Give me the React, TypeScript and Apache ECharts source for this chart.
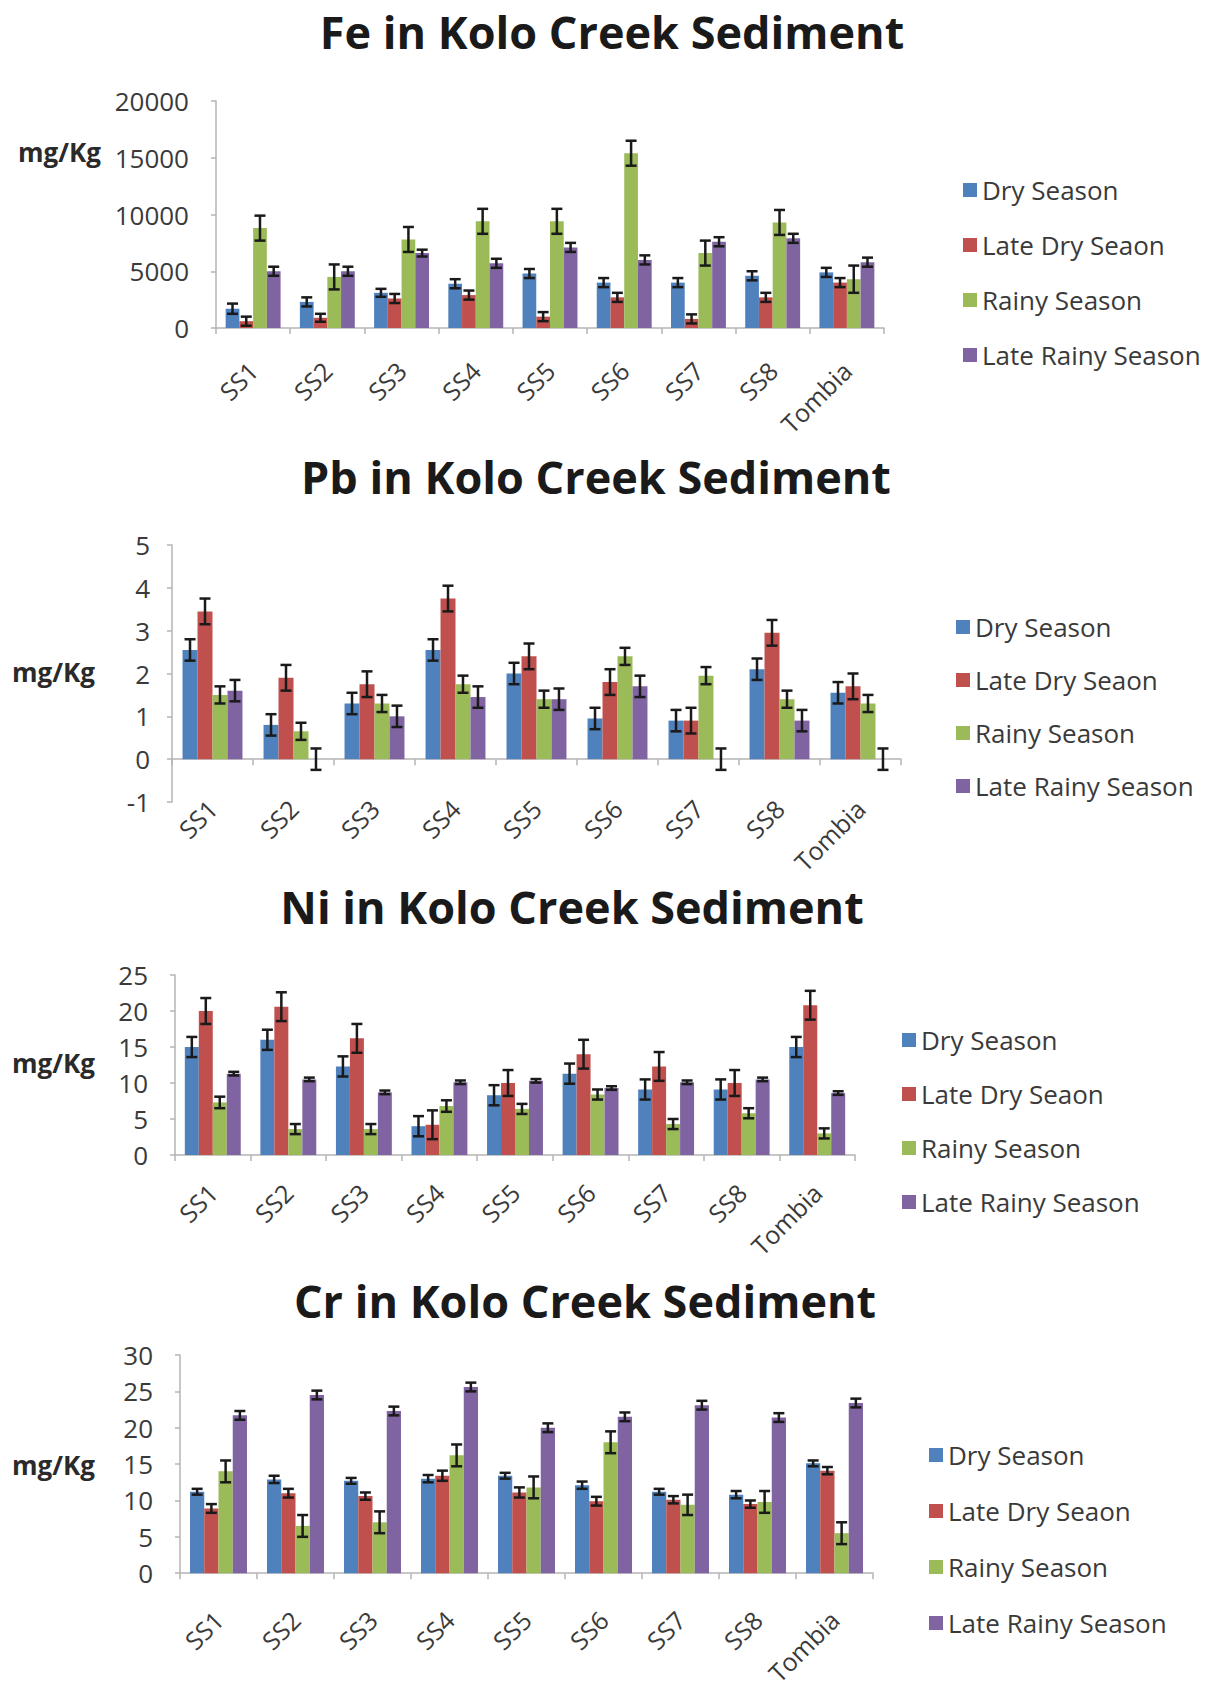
import React, { useEffect, useRef } from "react";
import * as echarts from "echarts";

const categories = ["SS1", "SS2", "SS3", "SS4", "SS5", "SS6", "SS7", "SS8", "Tombia"];
const seasons = ["Dry Season", "Late Dry Seaon", "Rainy Season", "Late Rainy Season"];
const seasonColors = ["#4F81BD", "#C0504D", "#9BBB59", "#8064A2"];

// Fe (mg/Kg)
const feDry = [1700, 2300, 3100, 3900, 4800, 4000, 4000, 4600, 4900];
const feLateDry = [600, 900, 2600, 2900, 1000, 2700, 800, 2700, 4000];
const feRainy = [8800, 4500, 7800, 9400, 9400, 15400, 6600, 9300, 4300];
const feLateRainy = [5000, 5000, 6600, 5700, 7100, 6000, 7600, 7900, 5800];
const feDryErr = [450, 400, 350, 400, 400, 400, 400, 400, 400];
const feLateDryErr = [400, 350, 400, 400, 400, 400, 400, 400, 400];
const feRainyErr = [1100, 1100, 1100, 1100, 1100, 1100, 1100, 1100, 1200];
const feLateRainyErr = [400, 400, 300, 400, 400, 400, 400, 400, 400];

// Pb (mg/Kg)
const pbDry = [2.55, 0.8, 1.3, 2.55, 2.0, 0.95, 0.9, 2.1, 1.55];
const pbLateDry = [3.45, 1.9, 1.75, 3.75, 2.4, 1.8, 0.9, 2.95, 1.7];
const pbRainy = [1.5, 0.65, 1.3, 1.75, 1.4, 2.4, 1.95, 1.4, 1.3];
const pbLateRainy = [1.6, 0, 1.0, 1.45, 1.4, 1.7, 0, 0.9, 0];
const pbDryErr = [0.25, 0.25, 0.25, 0.25, 0.25, 0.25, 0.25, 0.25, 0.25];
const pbLateDryErr = [0.3, 0.3, 0.3, 0.3, 0.3, 0.3, 0.3, 0.3, 0.3];
const pbRainyErr = [0.2, 0.2, 0.2, 0.2, 0.2, 0.2, 0.2, 0.2, 0.2];
const pbLateRainyErr = [0.25, 0.25, 0.25, 0.25, 0.25, 0.25, 0.25, 0.25, 0.25];

// Ni (mg/Kg)
const niDry = [15, 16, 12.3, 4, 8.3, 11.3, 9.1, 9.1, 15];
const niLateDry = [20, 20.6, 16.2, 4.2, 10, 14, 12.3, 10, 20.8];
const niRainy = [7.3, 3.6, 3.6, 6.8, 6.4, 8.4, 4.3, 5.8, 3.0];
const niLateRainy = [11.3, 10.5, 8.7, 10.1, 10.3, 9.3, 10.1, 10.5, 8.6];
const niDryErr = [1.4, 1.4, 1.4, 1.4, 1.4, 1.4, 1.4, 1.4, 1.4];
const niLateDryErr = [1.8, 2, 2, 2, 1.8, 2, 2, 1.8, 2];
const niRainyErr = [0.8, 0.7, 0.7, 0.8, 0.7, 0.7, 0.7, 0.7, 0.7];
const niLateRainyErr = [0.25, 0.25, 0.25, 0.25, 0.25, 0.25, 0.25, 0.25, 0.25];

// Cr (mg/Kg)
const crDry = [11.2, 12.9, 12.7, 13.0, 13.4, 12.1, 11.2, 10.8, 15.1];
const crLateDry = [8.9, 11.0, 10.6, 13.4, 11.1, 9.9, 10.1, 9.5, 14.1];
const crRainy = [14.0, 6.5, 7.0, 16.2, 11.8, 18.0, 9.4, 9.8, 5.5];
const crLateRainy = [21.7, 24.5, 22.3, 25.6, 20.0, 21.5, 23.1, 21.4, 23.4];
const crDryErr = [0.4, 0.5, 0.4, 0.5, 0.4, 0.5, 0.4, 0.5, 0.4];
const crLateDryErr = [0.6, 0.6, 0.5, 0.7, 0.7, 0.6, 0.5, 0.5, 0.5];
const crRainyErr = [1.5, 1.5, 1.5, 1.5, 1.5, 1.5, 1.4, 1.5, 1.5];
const crLateRainyErr = [0.6, 0.6, 0.6, 0.6, 0.6, 0.6, 0.6, 0.6, 0.6];

const yTicksFe = { min: 0, max: 20000, interval: 5000 };
const yTicksPb = { min: -1, max: 5, interval: 1 };
const yTicksNi = { min: 0, max: 25, interval: 5 };
const yTicksCr = { min: 0, max: 30, interval: 5 };

const FONT = '"Open Sans", "DejaVu Sans", sans-serif';
const AXIS_COLOR = "#b4b4b4";
const TEXT_COLOR = "#3a3a3a";
const GAP = 0.26;

type Panel = {
  title: string;
  values: number[][];
  errors: number[][];
  ticks: { min: number; max: number; interval: number };
  grid: { left: number; top: number; width: number; height: number };
  titleX: number;
  titleY: number;
  unitX: number;
  unitY: number;
  legendX: number;
  legendTop: number;
  legendGap: number;
  labelMargin: number;
  yLabelMargin: number;
  splitZero?: boolean;
};

const panels: Panel[] = [
  {
    title: "Fe in Kolo Creek Sediment",
    values: [feDry, feLateDry, feRainy, feLateRainy],
    errors: [feDryErr, feLateDryErr, feRainyErr, feLateRainyErr],
    ticks: yTicksFe,
    grid: { left: 216, top: 101, width: 668, height: 227 },
    titleX: 607, titleY: 34,
    unitX: 18, unitY: 157,
    legendX: 958, legendTop: 172, legendGap: 29,
    labelMargin: 38, yLabelMargin: 27,
  },
  {
    title: "Pb in Kolo Creek Sediment",
    values: [pbDry, pbLateDry, pbRainy, pbLateRainy],
    errors: [pbDryErr, pbLateDryErr, pbRainyErr, pbLateRainyErr],
    ticks: yTicksPb,
    grid: { left: 172, top: 545, width: 729, height: 257 },
    titleX: 591, titleY: 479,
    unitX: 12, unitY: 677,
    legendX: 951, legendTop: 609, legendGap: 27,
    labelMargin: 2, yLabelMargin: 22,
    splitZero: true,
  },
  {
    title: "Ni in Kolo Creek Sediment",
    values: [niDry, niLateDry, niRainy, niLateRainy],
    errors: [niDryErr, niLateDryErr, niRainyErr, niLateRainyErr],
    ticks: yTicksNi,
    grid: { left: 175, top: 975, width: 680, height: 180 },
    titleX: 567, titleY: 909,
    unitX: 12, unitY: 1068,
    legendX: 897, legendTop: 1022, legendGap: 28,
    labelMargin: 33, yLabelMargin: 27,
  },
  {
    title: "Cr in Kolo Creek Sediment",
    values: [crDry, crLateDry, crRainy, crLateRainy],
    errors: [crDryErr, crLateDryErr, crRainyErr, crLateRainyErr],
    ticks: yTicksCr,
    grid: { left: 180, top: 1355, width: 693, height: 220 },
    titleX: 580, titleY: 1303,
    unitX: 12, unitY: 1470,
    legendX: 924, legendTop: 1437, legendGap: 30,
    labelMargin: 42, yLabelMargin: 27,
  },
];

function errorSeries(k: number, xi: number, yi: number, vals: number[], errs: number[]) {
  return {
    type: "custom",
    name: "err-" + xi + "-" + k,
    xAxisIndex: xi,
    yAxisIndex: yi,
    silent: true,
    z: 10,
    data: vals.map((v, i) => [i, v, errs[i]]),
    renderItem: (params: any, api: any) => {
      const i = api.value(0);
      const v = api.value(1);
      const e = api.value(2);
      const band = api.size([1, 0])[0];
      const group = band * (1 - GAP);
      const bw = group / 4;
      const c = api.coord([i, v]);
      const x = c[0] - group / 2 + bw * (k + 0.5);
      const hi = api.coord([i, v + e])[1];
      const lo = api.coord([i, v - e])[1];
      const cap = 5.5;
      const st = { stroke: "#1a1a1a", lineWidth: 2.5 };
      return {
        type: "group",
        children: [
          { type: "line", shape: { x1: x, y1: hi, x2: x, y2: lo }, style: st },
          { type: "line", shape: { x1: x - cap, y1: hi, x2: x + cap, y2: hi }, style: st },
          { type: "line", shape: { x1: x - cap, y1: lo, x2: x + cap, y2: lo }, style: st },
        ],
      };
    },
  };
}

function buildOption() {
  const grid: any[] = [];
  const xAxis: any[] = [];
  const yAxis: any[] = [];
  const series: any[] = [];
  const legend: any[] = [];
  const title: any[] = [];
  const graphic: any[] = [];
  const lineStyle = { color: AXIS_COLOR, width: 1.5 };

  panels.forEach((p, pi) => {
    grid.push({ ...p.grid, containLabel: false });
    const yi = yAxis.length;
    yAxis.push({
      type: "value",
      gridIndex: pi,
      min: p.ticks.min,
      max: p.ticks.max,
      interval: p.ticks.interval,
      axisLine: { show: true, lineStyle },
      axisTick: { show: true, length: 5, lineStyle },
      splitLine: { show: false },
      axisLabel: {
        fontSize: 26,
        color: TEXT_COLOR,
        fontFamily: FONT,
        margin: p.yLabelMargin,
        formatter: (v: number) => String(v),
      },
    });
    const xi = xAxis.length;
    xAxis.push({
      type: "category",
      gridIndex: pi,
      data: categories,
      position: "bottom",
      axisLine: { show: !p.splitZero, onZero: !p.splitZero, lineStyle },
      axisTick: { show: !p.splitZero, length: 6, lineStyle },
      axisLabel: {
        rotate: 45,
        interval: 0,
        margin: p.labelMargin,
        fontSize: 25,
        color: TEXT_COLOR,
        fontFamily: FONT,
      },
    });
    if (p.splitZero) {
      xAxis.push({
        type: "category",
        gridIndex: pi,
        data: categories,
        position: "bottom",
        axisLine: { show: true, onZero: true, lineStyle },
        axisTick: { show: true, length: 6, lineStyle },
        axisLabel: { show: false },
      });
    }
    p.values.forEach((vals, k) => {
      series.push({
        type: "bar",
        name: seasons[k],
        xAxisIndex: xi,
        yAxisIndex: yi,
        data: vals,
        itemStyle: { color: seasonColors[k] },
        barGap: "0%",
        barCategoryGap: Math.round(GAP * 100) + "%",
      });
    });
    p.values.forEach((vals, k) => {
      series.push(errorSeries(k, xi, yi, vals, p.errors[k]));
    });
    legend.push({
      data: seasons,
      orient: "vertical",
      left: p.legendX,
      top: p.legendTop,
      itemWidth: 14,
      itemHeight: 14,
      itemGap: p.legendGap,
      itemStyle: { borderWidth: 0 },
      icon: "rect",
      textStyle: { fontSize: 26, lineHeight: 26, color: TEXT_COLOR, fontFamily: FONT },
      selectedMode: false,
    });
    title.push({
      text: p.title,
      left: p.titleX,
      top: p.titleY - 30,
      textAlign: "center",
      textStyle: { fontSize: 45, fontWeight: "bold", fontFamily: FONT, color: "#1a1a1a" },
    });
    graphic.push({
      type: "text",
      left: p.unitX,
      top: p.unitY - 18,
      style: { text: "mg/Kg", fontSize: 26, fontWeight: "bold", fontFamily: FONT, fill: "#2a2a2a" },
    });
  });

  return {
    animation: false,
    backgroundColor: "#ffffff",
    grid,
    xAxis,
    yAxis,
    series,
    legend,
    title,
    graphic,
  };
}

export default function App() {
  const ref = useRef<HTMLDivElement>(null);
  useEffect(() => {
    if (!ref.current) return;
    const chart = echarts.init(ref.current, null, { renderer: "svg" });
    chart.setOption(buildOption() as any);
    return () => chart.dispose();
  }, []);
  return (
    <div
      ref={ref}
      style={{ position: "absolute", left: 0, top: 0, width: 1221, height: 1688, background: "#fff" }}
    />
  );
}
